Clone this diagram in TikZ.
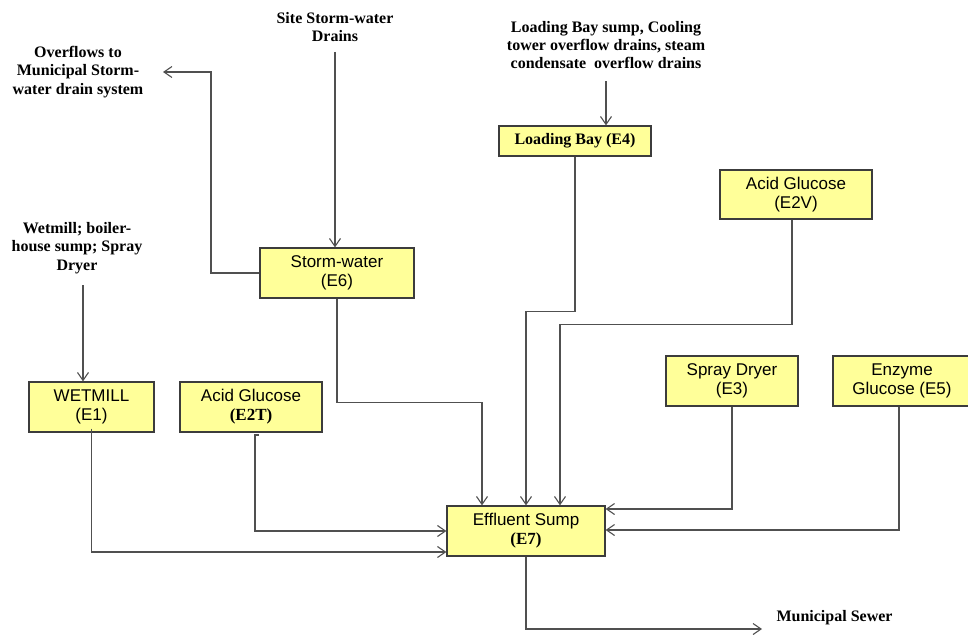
\documentclass[tikz,border=0pt]{standalone}
\usepackage{fontspec}
\setmainfont{Liberation Serif}
\setsansfont{Liberation Sans}
\usetikzlibrary{arrows.meta,calc}

\definecolor{boxfill}{HTML}{FFFF99}
\definecolor{boxline}{HTML}{3C3C3C}
\definecolor{flowline}{HTML}{505050}

\begin{document}
\begin{tikzpicture}[x=1pt, y=-1pt,
    >={Straight Barb[length=8pt,width=11pt]},
    unit/.style={draw=boxline, fill=boxfill, line width=1.2pt, rectangle, align=center,
        inner sep=0pt, font=\sffamily\fontsize{17}{19}\selectfont},
    src/.style={align=center, font=\bfseries\fontsize{16}{18.3}\selectfont},
    flow/.style={draw=flowline, line width=1.1pt}]
    \useasboundingbox (0,0) rectangle (968,634);

    % 各排放单元
    \node[unit, minimum width=154pt, minimum height=50pt] (e6) at (337,273) {Storm-water\\(E6)};
    \node[unit, minimum width=152pt, minimum height=30pt,
          font=\bfseries\fontsize{16}{18}\selectfont] (e4) at (575,141) {Loading Bay (E4)};
    \node[unit, minimum width=152pt, minimum height=49pt] (e2v) at (796,194.5) {Acid Glucose\\(E2V)};
    \node[unit, minimum width=125pt, minimum height=50pt] (e1) at (91.5,407) {WETMILL\\(E1)};
    \node[unit, minimum width=142pt, minimum height=50pt] (e2t) at (251,407)
        {Acid Glucose\\{\rmfamily\bfseries (E2T)}};
    \node[unit, minimum width=132pt, minimum height=50pt] (e3) at (732,381) {Spray Dryer\\(E3)};
    \node[unit, minimum width=138pt, minimum height=50pt] (e5) at (902,381) {Enzyme\\Glucose (E5)};
    \node[unit, minimum width=158pt, minimum height=50pt] (e7) at (526,531)
        {Effluent Sump\\{\rmfamily\bfseries (E7)}};

    % 来源与去向说明
    \node[src] (site) at (335,27) {Site Storm-water\\Drains};
    \node[src] (ovf) at (78,72) {Overflows to\\Municipal Storm-\\water drain system};
    \node[src] (wm) at (77,248) {Wetmill; boiler-\\house sump; Spray\\Dryer};
    \node[src] (lb) at (606,45) {Loading Bay sump, Cooling\\tower overflow drains, steam\\condensate\ \ overflow drains};
    \node[src, anchor=west] (sewer) at (773,618) {Municipal Sewer};

    % 连接点
    \coordinate (sitetop) at (335,52);
    \coordinate (ovfend) at (163,72);
    \coordinate (ovfturn) at (211,72);
    \coordinate (wmtop) at (83,285);
    \coordinate (lbtop) at (606,81);
    \coordinate (e2tout) at (259,435);
    \coordinate (sewerend) at (762,629);

    % 进入储水池与外溢
    \draw[flow, ->] (sitetop) -- (sitetop |- e6.north);
    \draw[flow, ->] (e6.west) -| (ovfturn) -- (ovfend);
    \draw[flow, ->] (wmtop) -- (wmtop |- e1.north);
    \draw[flow, ->] (lbtop) -- (lbtop |- e4.north);

    % 汇入废水池
    \draw[flow, ->] ([yshift=4pt]e1.south) |- ([yshift=-21pt]e7.west);
    \draw[flow, ->] (e2tout) -- ++(-4,0) |- (e7.west);
    \draw[flow, ->] (e6.south) -- ++(0,104) -| ([xshift=-44pt]e7.north);
    \draw[flow, ->] (e4.south) -- ++(0,155) -| (e7.north);
    \draw[flow, ->] ([xshift=-4pt]e2v.south) -- ++(0,105) -| ([xshift=34pt]e7.north);
    \draw[flow, ->] (e3.south) |- ([yshift=22pt]e7.east);
    \draw[flow, ->] ([xshift=-3pt]e5.south) |- ([yshift=1pt]e7.east);

    % 排往市政污水管
    \draw[flow, ->] (e7.south) |- (sewerend);
\end{tikzpicture}
\end{document}
